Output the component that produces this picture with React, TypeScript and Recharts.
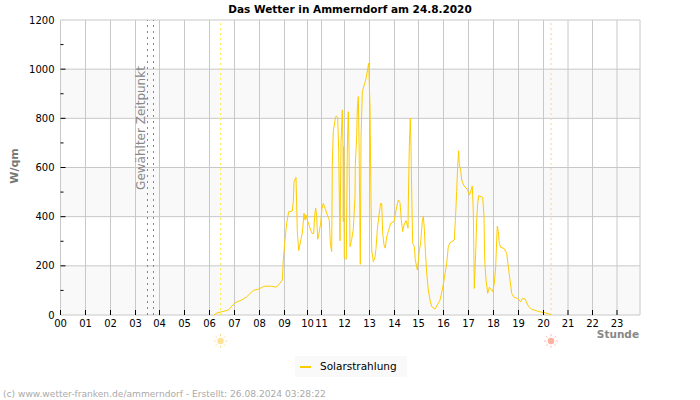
import React from 'react';
import {
  LineChart, Line, XAxis, YAxis, CartesianGrid, ReferenceLine, Legend,
} from 'recharts';

const FONT = '"DejaVu Sans", sans-serif';
const LEFT = 60.5;

// the axis counts logged slots, not clock time: the logger lost samples between 10 and 12
const hourLabels = ['00', '01', '02', '03', '04', '05', '06', '07', '08', '09', '10', '11', '12', '13', '14', '15', '16', '17', '18', '19', '20', '21', '22', '23'];
const hourSlots = [0, 25, 50, 75, 99, 124, 149, 174, 199, 224, 247, 261, 284, 309, 334, 358, 383, 408, 433, 458, 483, 507.5, 532, 556.5];
const yTicks = [0, 100, 200, 300, 400, 500, 600, 700, 800, 900, 1000, 1100, 1200];
const yGrid = [0, 200, 400, 600, 800, 1000, 1200];

const selectedSlots = [87, 93];
const sunriseSlot = 160;
const sunsetSlot = 490.5;

const solarSlots = [
  153.5, 156.8, 160.2, 167.8, 174.5, 181.2, 186.2, 192.8, 197.8, 203.8, 211.2, 215.5, 219.5, 221.8, 222.8, 224.2, 226.2, 228.2, 231.8, 232.8,
  233.5, 235.5, 236.8, 238.2, 240.2, 241.8, 243.5, 244.5, 245.5, 246.8, 250.2, 251.5, 253.2, 254.2, 255.2, 256.2, 257.2, 258.2, 260.2, 261.5, 262.8, 264.5, 266.8, 268.8, 269.8, 271.2,
  271.8, 272.8, 273.8, 274.8, 275.8, 277.2, 278.2, 279, 279.5, 280.5, 281.8, 282.5, 282.8, 283.2, 283.8, 285.8, 286.8, 287.8, 288.5, 289.5, 291.2, 292.8, 294.5, 294.8, 296.2, 296.8, 297.8, 298.5, 299.8, 300.5, 301.8, 302.8, 303.8, 305.2, 306.2, 307.2, 308.2, 309.5, 310.5, 311.2,
  312.8, 314.5, 315.5, 316.8, 318.5, 320.2, 321.2, 322.2, 323.5, 324.8, 326.2, 327.8, 330.2, 333.5, 336.2, 337.8, 339.5, 340.8, 342.2, 343.5, 345.5, 347.5, 347.8, 348.8, 349.8, 350.5, 351.5, 352.2, 353.8, 354.8,
  356.8, 358.8, 360.2, 361.8, 362.8, 363.8, 364.8, 366.2, 367.8, 369.5, 371.2, 374.5, 377.8, 379.5, 381.8, 383.5, 386.2, 387.8, 389.5, 393.8, 395.2, 396.2, 397.2, 398.2, 398.8, 400.2, 401.2, 403.5, 406.8, 408.8, 410.5, 411.8, 412.8, 413.8, 414.8, 415.5, 416.2, 417.2, 418.2, 422.2,
  423.5, 424.2, 425.5, 427.2, 428.8, 432.2, 433.8, 435.2, 436.2, 436.8, 437.8, 438.8, 440.2, 443.5, 446.2, 447.8, 449.5, 451.2, 453.5, 456.8, 460.2, 462.2, 464.5, 467.8, 471.2, 476.2, 481.2, 484.5, 489.5, 490.5,
];
const solarValues = [
  0, 9, 12, 20, 50, 61, 74, 100, 105, 117, 117, 113, 129, 142, 224, 293, 374, 420, 423, 461,
  542, 560, 339, 262, 302, 333, 414, 386, 407, 386, 346, 332, 332, 406, 435, 400, 308, 325, 375, 434, 454, 434, 407, 386, 292, 258,
  614, 749, 773, 800, 810, 803, 671, 431, 302, 700, 834, 683, 380, 685, 232, 227, 675, 827, 680, 278, 308, 349, 481, 610, 725, 834, 888, 719, 206, 720, 908, 922, 938, 956, 976, 1003, 1024, 847, 468, 264,
  217, 235, 271, 346, 407, 454, 454, 333, 285, 272, 319, 339, 374, 380, 441, 468, 457, 386, 339, 366, 384, 353, 455, 685, 800, 680, 427, 292, 278, 224,
  183, 258, 298, 380, 403, 353, 264, 171, 102, 61, 34, 24, 48, 61, 102, 142, 210, 278, 294, 305, 414, 502, 610, 668, 610, 590, 549, 525, 511, 488, 506, 525, 420, 108, 210, 292, 386, 454, 485, 479,
  400, 224, 142, 88, 113, 95, 129, 197, 305, 362, 339, 292, 275, 271, 251, 197, 142, 88, 72, 68, 54, 68, 65, 37, 23, 17, 11, 9, 3, 0,
];

const chartData = solarSlots.map((slot, i) => ({ slot, solar: solarValues[i] }));

const XTick = ({ x, y, payload }: any) => (
  <g>
    <line x1={x} x2={x} y1={y} y2={y - 5} stroke="#000" />
    <text x={x} y={y + 12} textAnchor="middle" fontSize={10} fontFamily={FONT} fill="#000">
      {hourLabels[hourSlots.indexOf(payload.value)]}
    </text>
  </g>
);

const YTick = ({ y, payload }: any) => {
  const major = payload.value % 200 === 0;
  return (
    <g>
      {payload.value > 0 && payload.value < 1200 && (
        <line x1={LEFT} x2={LEFT + (major ? 5 : 3)} y1={y} y2={y} stroke="#000" />
      )}
      {major && (
        <text x={LEFT - 6} y={y + 3.5} textAnchor="end" fontSize={10} fontFamily={FONT} fill="#000">
          {payload.value}
        </text>
      )}
    </g>
  );
};

// small sun below the plot, hung on the sunrise / sunset line
const SunMark = ({ viewBox, color, rayColor }: any) => {
  const cx = viewBox.x;
  const cy = viewBox.y + viewBox.height + 26;
  const rays = [0, 45, 90, 135, 180, 225, 270, 315];
  return (
    <g>
      <circle cx={cx} cy={cy} r={3.2} fill={color} />
      {rays.map(a => {
        const c = Math.cos((a * Math.PI) / 180);
        const s = Math.sin((a * Math.PI) / 180);
        return <line key={a} x1={cx + 4.8 * c} y1={cy + 4.8 * s} x2={cx + 6.8 * c} y2={cy + 6.8 * s} stroke={rayColor} />;
      })}
    </g>
  );
};

const SelectedLabel = ({ viewBox }: any) => (
  <text
    x={viewBox.x - 3}
    y={128}
    transform={`rotate(-90 ${viewBox.x - 3} 128)`}
    textAnchor="middle"
    fontSize={12}
    fontFamily={FONT}
    fill="#888"
  >
    Gewählter Zeitpunkt
  </text>
);

const LegendBox = () => (
  <div style={{ width: 112, height: 21, background: '#f9f9f9', position: 'relative', fontFamily: FONT, fontSize: 10.5 }}>
    <div style={{ position: 'absolute', left: 5, top: 10, width: 11, height: 2, background: '#ffcc00' }} />
    <div style={{ position: 'absolute', left: 25, top: 4, lineHeight: '13px', color: '#000' }}>Solarstrahlung</div>
  </div>
);

export default function App() {
  return (
    <div style={{ position: 'absolute', left: 0, top: 0, width: 700, height: 400, background: '#fff' }}>
      <LineChart
        width={700}
        height={400}
        data={chartData}
        margin={{ top: 20, right: 60, bottom: 34, left: 0 }}
      >
        <CartesianGrid
          stroke="#c8c8c8"
          horizontalValues={yGrid}
          verticalValues={[...hourSlots, 579.5]}
          horizontalFill={['#ffffff', '#f9f9f9']}
          fillOpacity={1}
        />
        <XAxis
          dataKey="slot"
          type="number"
          domain={[0, 579.5]}
          ticks={hourSlots}
          interval={0}
          height={30}
          axisLine={false}
          tickLine={false}
          tickSize={0}
          tickMargin={0}
          tick={<XTick />}
        />
        <YAxis
          type="number"
          domain={[0, 1200]}
          ticks={yTicks}
          interval={0}
          width={LEFT}
          axisLine={false}
          tickLine={false}
          tickSize={0}
          tickMargin={0}
          tick={<YTick />}
        />
        {selectedSlots.map((s, i) => (
          <ReferenceLine
            key={s}
            x={s}
            stroke="#888"
            strokeDasharray="2 4"
            label={i === 0 ? <SelectedLabel /> : undefined}
          />
        ))}
        <ReferenceLine
          x={sunriseSlot}
          stroke="#ffee55"
          strokeDasharray="2 3"
          label={<SunMark color="#fde396" rayColor="#fbdc88" />}
        />
        <ReferenceLine
          x={sunsetSlot}
          stroke="#f8cfa0"
          strokeDasharray="2 3"
          label={<SunMark color="#ffb0a0" rayColor="#ffb8a8" />}
        />
        <Line
          dataKey="solar"
          name="Solarstrahlung"
          stroke="#ffcc00"
          strokeWidth={1}
          dot={false}
          isAnimationActive={false}
        />
        <Legend
          content={<LegendBox />}
          wrapperStyle={{ left: 295, top: 356, width: 112, height: 21, bottom: 'auto' }}
        />
        <text x={350} y={13} textAnchor="middle" fontSize={10.5} fontWeight="bold" fontFamily={FONT} fill="#000">
          Das Wetter in Ammerndorf am 24.8.2020
        </text>
        <text x={18} y={166} transform="rotate(-90 18 166)" textAnchor="middle" fontSize={11} fontWeight="bold" fontFamily={FONT} fill="#777">
          W/qm
        </text>
        <text x={639} y={338} textAnchor="end" fontSize={10.5} fontWeight="bold" fontFamily={FONT} fill="#888">
          Stunde
        </text>
        <text x={3} y={397} fontSize={9.1} fontFamily={FONT} fill="#aaa">
          (c) www.wetter-franken.de/ammerndorf - Erstellt: 26.08.2024 03:28:22
        </text>
      </LineChart>
    </div>
  );
}
